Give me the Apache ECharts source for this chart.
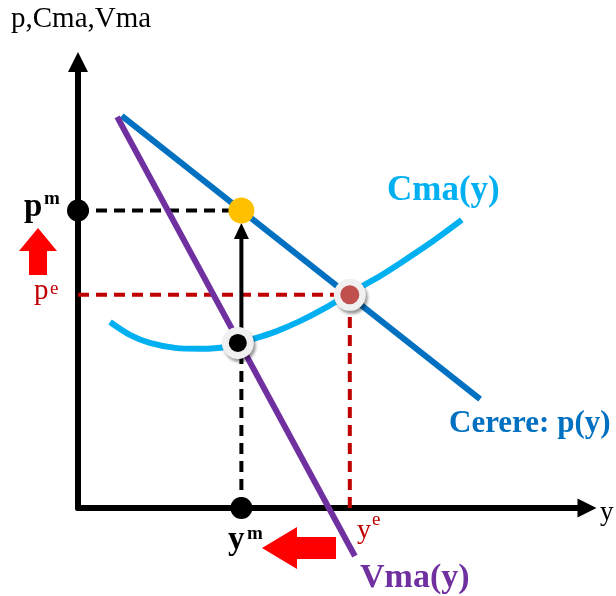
<!DOCTYPE html>
<html>
<head>
<meta charset="utf-8">
<script src="https://cdn.jsdelivr.net/npm/echarts@6/dist/echarts.min.js"></script>
<style>
  html, body { margin: 0; padding: 0; background: #fff; }
  #chart { width: 616px; height: 596px; }
</style>
</head>
<body>
<div id="chart"></div>
<script>
// curves (y = quantity, p = price)
const cmaX = [6.3, 10.2, 14.1, 19.1, 24.0, 29.0, 33.8, 38.7, 43.6, 48.5, 53.4, 58.3, 63.3, 69.2, 75.4];
const cmaY = [41.7, 38.8, 37.0, 35.9, 35.7, 36.1, 37.7, 39.5, 41.9, 44.8, 48.2, 51.3, 54.9, 59.4, 64.6];
const demandX = [8.6, 79.0];
const demandY = [87.9, 24.4];
const vmaX = [7.7, 54.4];
const vmaY = [87.7, -10.8];

// monopoly and competitive equilibria
const ym = 32.1;
const pm = 66.7;
const cmaAtYm = [31.4, 37.0];
const ye = 53.4;
const pe = 47.8;
const arrowTip = 62.1;

const zip = (xs, ys) => xs.map((x, i) => [x, ys[i]]);
const tri = 'path://M5,0L10,10L0,10Z';
const serif = '"Liberation Serif", "Times New Roman", serif';

const chart = echarts.init(document.getElementById('chart'));

function axis(size) {
  return {
    type: 'value',
    min: 0,
    max: 100,
    axisLine: {
      show: true,
      symbol: ['none', tri],
      symbolSize: size,
      lineStyle: { color: '#000', width: 6 }
    },
    axisTick: { show: false },
    axisLabel: { show: false },
    splitLine: { show: false }
  };
}

function dashed(data, color) {
  return {
    type: 'line',
    data: data,
    symbol: 'none',
    clip: false,
    z: 2,
    lineStyle: { color: color, width: 4, type: [11, 7] }
  };
}

function dot(data, size, color, z, ring) {
  const itemStyle = { color: color, opacity: 1 };
  if (ring) {
    itemStyle.shadowBlur = 3;
    itemStyle.shadowColor = 'rgba(0,0,0,0.4)';
    itemStyle.shadowOffsetX = 2;
    itemStyle.shadowOffsetY = 3;
  }
  return {
    type: 'scatter',
    data: data,
    symbol: 'circle',
    symbolSize: size,
    clip: false,
    z: z,
    itemStyle: itemStyle
  };
}

function label(text, x, y, size, color, bold) {
  return {
    type: 'text',
    z: 100,
    style: {
      text: text,
      x: x,
      y: y,
      fill: color,
      font: (bold ? 'bold ' : '') + size + 'px ' + serif,
      align: 'left',
      verticalAlign: 'middle'
    }
  };
}

const option = {
  animation: false,
  backgroundColor: '#fff',
  grid: { left: 78, right: 29, top: 62, bottom: 88 },
  xAxis: axis([19, 22]),
  yAxis: axis([20, 24]),
  series: [
    dashed([[0, pm], [ym, pm]], '#000'),
    dashed([[ym, 0], [ym, cmaAtYm[1]]], '#000'),
    dashed([[0, pe], [ye, pe]], '#C00000'),
    dashed([[ye, 0], [ye, pe]], '#C00000'),
    {
      type: 'line',
      data: [[ym, cmaAtYm[1]], { value: [ym, arrowTip], symbol: tri, symbolSize: [15, 16] }],
      symbol: 'none',
      z: 3,
      itemStyle: { color: '#000' },
      lineStyle: { color: '#000', width: 4 }
    },
    {
      type: 'line',
      data: zip(cmaX, cmaY),
      smooth: 0.3,
      symbol: 'none',
      clip: false,
      z: 4,
      lineStyle: { color: '#00B0F0', width: 6 }
    },
    {
      type: 'line',
      data: zip(demandX, demandY),
      symbol: 'none',
      clip: false,
      z: 4,
      lineStyle: { color: '#0070C0', width: 6 }
    },
    {
      type: 'line',
      data: zip(vmaX, vmaY),
      symbol: 'none',
      clip: false,
      z: 5,
      lineStyle: { color: '#7030A0', width: 6 }
    },
    dot([[0, pm], [ym, 0]], 22, '#000', 6, false),
    dot([[ym, pm]], 26, '#FFC000', 6, false),
    dot([cmaAtYm, [ye, pe]], 32, '#f0f0f0', 6, true),
    dot([cmaAtYm], 18, '#000', 7, false),
    dot([[ye, pe]], 19, '#C0504D', 7, false)
  ],
  graphic: [
    label('p,Cma,Vma', 11, 19.6, 29, '#000', false),
    label('p', 24, 207, 33, '#000', true),
    label('m', 44, 199, 19, '#000', true),
    label('p', 34, 291, 29, '#C00000', false),
    label('e', 50, 289.3, 19, '#C00000', false),
    label('y', 228, 540, 33, '#000', true),
    label('m', 247, 534, 19, '#000', true),
    label('y', 357, 530.6, 28, '#C00000', false),
    label('e', 372, 520.3, 19, '#C00000', false),
    label('y', 600, 513, 27, '#000', false),
    label('Cma(y)', 387, 190.5, 35, '#00B0F0', true),
    label('Cerere: p(y)', 449, 423.7, 31, '#0070C0', true),
    label('Vma(y)', 360, 577.8, 34, '#7030A0', true),
    {
      type: 'polygon',
      z: 100,
      shape: { points: [[38, 228], [57, 251], [47, 251], [47, 275], [29, 275], [29, 251], [19, 251]] },
      style: { fill: '#FF0000' }
    },
    {
      type: 'polygon',
      z: 100,
      shape: { points: [[262, 548], [297, 527], [297, 537], [336, 537], [336, 559], [297, 559], [297, 569]] },
      style: { fill: '#FF0000' }
    }
  ]
};

chart.setOption(option);
</script>
</body>
</html>
